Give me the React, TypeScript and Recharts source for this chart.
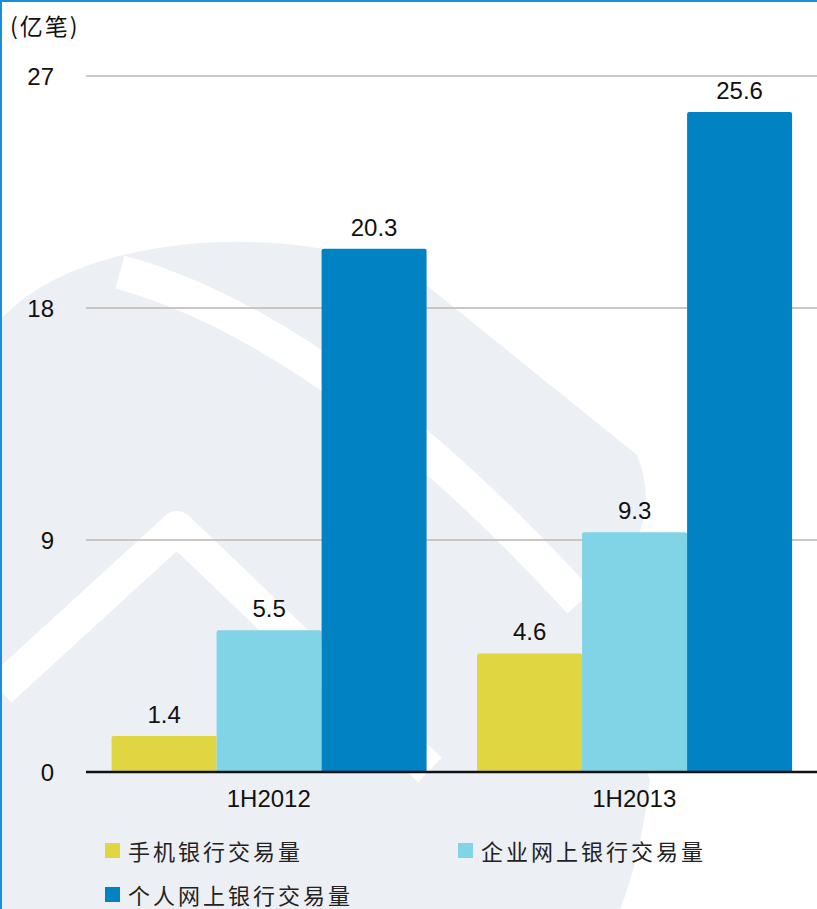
import { BarChart, Bar, XAxis, YAxis, CartesianGrid, LabelList, Legend } from "recharts";

const periods = ["1H2012", "1H2013"];
const mobile = [1.4, 4.6];
const corporate = [5.5, 9.3];
const personal = [20.3, 25.6];
const yTicks = [0, 9, 18, 27];

const series = [
  { key: "mobile", name: "手机银行交易量", color: "#e0d642" },
  { key: "corporate", name: "企业网上银行交易量", color: "#80d4e6" },
  { key: "personal", name: "个人网上银行交易量", color: "#0082c3" },
];

const data = periods.map((p, i) => ({
  period: p,
  mobile: mobile[i],
  corporate: corporate[i],
  personal: personal[i],
}));

const numFont = "'Liberation Sans', Arial, sans-serif";
const cjkFont = "'Noto Sans CJK SC', sans-serif";

// faint logo watermark behind the plot
function Watermark() {
  return (
    <svg width={817} height={909} style={{ position: "absolute", left: -2, top: -2 }}>
      <path
        d="M0,320 Q60,255 200,243 Q330,235 420,280 L637,455 Q668,530 590,600 L650,780 Q640,860 620,909 L0,909 Z"
        fill="#eceff4"
      />
      <path d="M120,272 Q330,330 580,602" stroke="#fff" strokeWidth={34} fill="none" />
      <path d="M0,690 L177,528 L430,770" stroke="#fff" strokeWidth={34} fill="none" strokeLinejoin="round" />
    </svg>
  );
}

function ChartLegend() {
  const pos = [
    { left: 105, top: 0 },
    { left: 458, top: 0 },
    { left: 105, top: 44 },
  ];
  return (
    <div style={{ position: "relative", width: 817, height: 70 }}>
      {series.map((s, i) => (
        <div
          key={s.key}
          style={{
            position: "absolute",
            left: pos[i].left,
            top: pos[i].top,
            height: 24,
            display: "flex",
            alignItems: "center",
            fontFamily: cjkFont,
            fontSize: 22,
            lineHeight: 1,
            letterSpacing: 3,
            color: "#222",
            whiteSpace: "nowrap",
          }}
        >
          <span style={{ width: 15, height: 15, background: s.color, marginRight: 8 }} />
          {s.name}
        </div>
      ))}
    </div>
  );
}

export default function App() {
  return (
    <div
      style={{
        position: "fixed",
        left: 0,
        top: 0,
        width: 817,
        height: 909,
        background: "#fff",
        borderTop: "2px solid #1a8fd8",
        borderLeft: "2px solid #1a8fd8",
        boxSizing: "border-box",
        overflow: "hidden",
      }}
    >
      <Watermark />
      <div
        style={{
          position: "absolute",
          left: 8,
          top: 6,
          fontFamily: cjkFont,
          fontSize: 23,
          letterSpacing: 2,
          color: "#111",
        }}
      >
        (亿笔)
      </div>
      <div style={{ position: "absolute", left: -2, top: -2 }}>
        <BarChart
          width={817}
          height={909}
          data={data}
          margin={{ top: 76, right: 0, left: 0, bottom: 97 }}
          barCategoryGap="7%"
          barGap={0}
        >
          <CartesianGrid vertical={false} stroke="#cbc6c1" strokeWidth={2} />
          <XAxis
            dataKey="period"
            height={40}
            axisLine={{ stroke: "#111", strokeWidth: 2.5 }}
            tickLine={false}
            tickSize={0}
            tickMargin={18}
            tick={{ fill: "#111", fontSize: 24, fontFamily: numFont }}
          />
          <YAxis
            width={86}
            domain={[0, 27]}
            ticks={yTicks}
            axisLine={false}
            tickLine={false}
            tickSize={0}
            tickMargin={32}
            tick={{ fill: "#111", fontSize: 24, fontFamily: numFont }}
          />
          <Legend
            layout="horizontal"
            verticalAlign="middle"
            align="center"
            wrapperStyle={{ top: 838, left: 0, width: 817 }}
            content={() => <ChartLegend />}
          />
          {series.map((s) => (
            <Bar
              key={s.key}
              dataKey={s.key}
              name={s.name}
              fill={s.color}
              radius={[2, 2, 0, 0]}
              isAnimationActive={false}
            >
              <LabelList
                dataKey={s.key}
                position="top"
                offset={13}
                fill="#111"
                fontSize={24}
                fontFamily={numFont}
              />
            </Bar>
          ))}
        </BarChart>
      </div>
    </div>
  );
}
